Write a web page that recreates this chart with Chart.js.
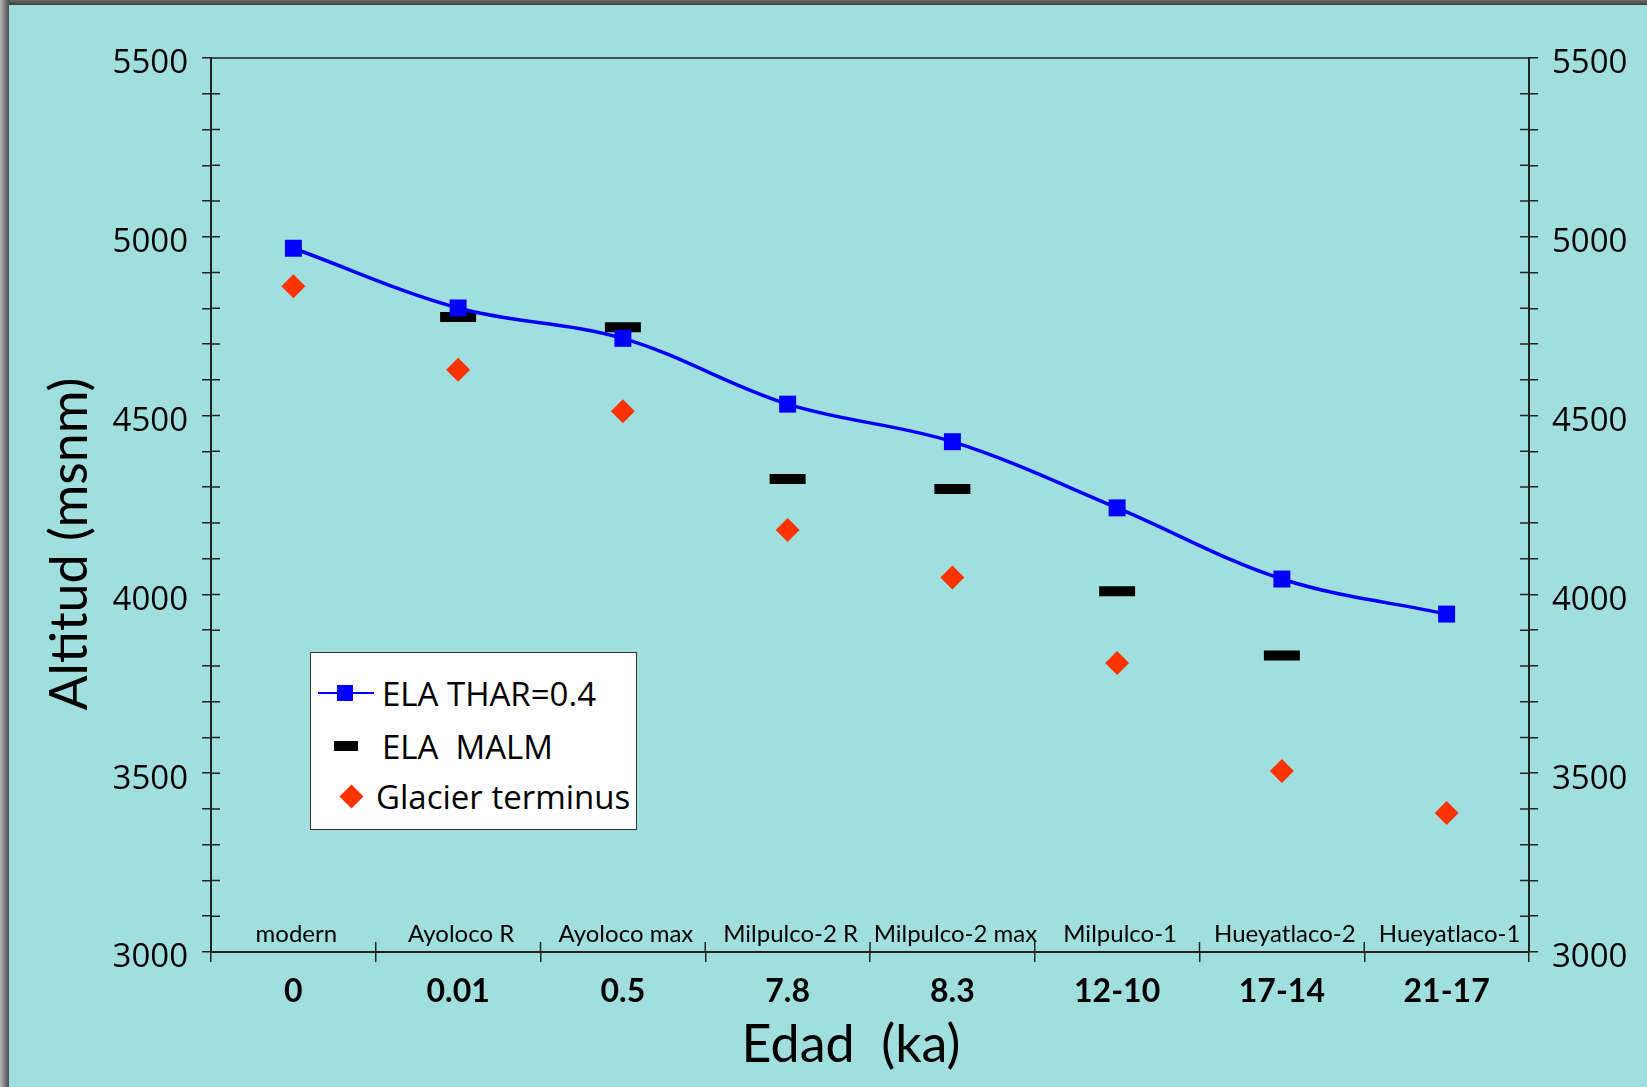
<!DOCTYPE html>
<html>
<head>
<meta charset="utf-8">
<script src="https://cdn.jsdelivr.net/npm/chart.js@4.4.1/dist/chart.umd.min.js"></script>
<style>
  body { margin: 0; background: #a1dfdf; }
  #wrap { position: relative; width: 1647px; height: 1087px; overflow: hidden; }
  #frameTop { position: absolute; left: 0; top: 0; width: 1647px; height: 5px; background: linear-gradient(to bottom, #6a6a6a, #3f3f3f); }
  #frameLeft { position: absolute; left: 0; top: 0; width: 9px; height: 1087px; background: linear-gradient(to right, #b8b8b8, #4a4a4a); }
  #legend { position: absolute; left: 310px; top: 652px; width: 325px; height: 176px; background: #fff; border: 1px solid #333; font-family: "Open Sans", sans-serif; font-size: 33px; color: #000; }
  .row { position: absolute; left: 0; height: 40px; display: flex; align-items: center; white-space: pre; }
  .mk { position: relative; display: inline-block; }
</style>
</head>
<body>
<div id="wrap">
  <canvas id="graph"></canvas>
  <div id="frameTop"></div>
  <div id="frameLeft"></div>
  <div id="legend"></div>
</div>
<script>
/* categories and values */
var sites = ['modern', 'Ayoloco R', 'Ayoloco max', 'Milpulco-2 R', 'Milpulco-2 max', 'Milpulco-1', 'Hueyatlaco-2', 'Hueyatlaco-1'];
var ages = ['0', '0.01', '0.5', '7.8', '8.3', '12-10', '17-14', '21-17'];
var elaThar = [4968, 4801, 4716, 4532, 4427, 4242, 4043, 3945];
var elaMalm = [null, 4776, 4747, 4323, 4295, 4009, 3829, null];
var terminus = [4862, 4628, 4512, 4180, 4047, 3808, 3506, 3389];
var seriesNames = ['ELA THAR=0.4', 'ELA  MALM', 'Glacier terminus'];

var axisColor = '#222';
var bg = '#a1dfdf';

/* ticks crossing into the plot, top border, site names, axis titles */
var decor = {
	id: 'decor',
	beforeDraw: function(chart) {
		var ctx = chart.ctx;
		ctx.save();
		ctx.fillStyle = bg;
		ctx.fillRect(0, 0, chart.width, chart.height);
		ctx.restore();
	},
	afterDraw: function(chart) {
		var ctx = chart.ctx, a = chart.chartArea;
		var y = chart.scales.y, y2 = chart.scales.y2, x = chart.scales.x;
		ctx.save();
		ctx.strokeStyle = axisColor;
		ctx.lineWidth = 1.5;
		ctx.beginPath();
		ctx.moveTo(a.left, a.top);
		ctx.lineTo(a.right, a.top);
		y.ticks.forEach(function(t, i) {
			var p = y.getPixelForTick(i);
			ctx.moveTo(a.left, p);
			ctx.lineTo(a.left + 9, p);
		});
		y2.ticks.forEach(function(t, i) {
			var p = y2.getPixelForTick(i);
			ctx.moveTo(a.right - 9, p);
			ctx.lineTo(a.right, p);
		});
		var half = (x.getPixelForValue(1) - x.getPixelForValue(0)) / 2;
		for (var i = 0; i <= sites.length; i++) {
			var px = x.getPixelForValue(i) - half;
			ctx.moveTo(px, a.bottom);
			ctx.lineTo(px, a.bottom - 10);
		}
		ctx.stroke();

		ctx.fillStyle = '#000';
		ctx.textAlign = 'center';
		ctx.textBaseline = 'alphabetic';
		ctx.font = '24px Lato';
		sites.forEach(function(s, i) {
			ctx.fillText(s, x.getPixelForValue(i) + 3, a.bottom - 10);
		});

		ctx.font = '52px Lato';
		ctx.textBaseline = 'middle';
		ctx.fillText('Edad  (ka)', 851, 1045);
		ctx.translate(70, 544);
		ctx.rotate(-Math.PI / 2);
		ctx.fillText('Altitud (msnm)', 0, 0);
		ctx.restore();
	}
};

function yAxis(pos, width) {
	return {
		position: pos,
		min: 3000,
		max: 5500,
		afterFit: function(s) { s.width = width; },
		ticks: {
			stepSize: 100,
			autoSkip: false,
			padding: 14,
			labelOffset: 6,
			color: '#000',
			font: { family: 'Open Sans', size: 33 },
			callback: function(v) { return v % 500 === 0 ? v : ''; }
		},
		grid: { drawOnChartArea: false, drawTicks: true, tickLength: 9, color: axisColor, lineWidth: 1.5 },
		border: { display: true, color: axisColor, width: 2 }
	};
}

var ctx = document.getElementById('graph');
var myChart = new Chart(ctx, {
	type: 'line',
	data: {
		labels: ages,
		datasets: [{
			label: seriesNames[0],
			data: elaThar,
			borderColor: '#0000ff',
			backgroundColor: '#0000ff',
			borderWidth: 3.5,
			tension: 0.35,
			pointStyle: 'rect',
			pointRadius: 12,
			pointHoverRadius: 12,
			pointBorderWidth: 0
		}, {
			label: seriesNames[1],
			data: elaMalm,
			showLine: false,
			pointStyle: 'line',
			pointRadius: 18,
			pointHoverRadius: 18,
			pointBorderWidth: 10,
			pointBorderColor: '#000',
			borderColor: '#000'
		}, {
			label: seriesNames[2],
			data: terminus,
			showLine: false,
			pointStyle: 'rectRot',
			pointRadius: 12,
			pointHoverRadius: 12,
			pointBorderWidth: 0,
			backgroundColor: '#ff3300',
			borderColor: '#ff3300'
		}]
	},
	options: {
		responsive: true,
		maintainAspectRatio: false,
		animation: false,
		layout: { padding: { top: 58 } },
		plugins: { legend: { display: false }, tooltip: { enabled: false } },
		scales: {
			x: {
				offset: true,
				afterFit: function(s) { s.height = 135; },
				ticks: { autoSkip: false, maxRotation: 0, padding: 10, color: '#000', font: { family: 'Lato', size: 32, weight: 'bold' } },
				grid: { offset: true, drawOnChartArea: false, drawTicks: true, tickLength: 10, color: axisColor, lineWidth: 1.5 },
				border: { display: true, color: axisColor, width: 2 }
			},
			y: yAxis('left', 211),
			y2: yAxis('right', 118)
		}
	},
	plugins: [decor]
});

/* legend box */
var legend = document.getElementById('legend');
var rows = [
	{ top: 20, textLeft: 71, mark: '<span class="mk" style="width:56px;height:16px;margin-left:7px"><span style="position:absolute;left:0;top:7px;width:56px;height:2px;background:#0000ff"></span><span style="position:absolute;left:19px;top:0;width:16px;height:16px;background:#0000ff"></span></span>' },
	{ top: 73, textLeft: 71, mark: '<span class="mk" style="width:24px;height:10px;margin-left:23px;background:#000"></span>' },
	{ top: 123, textLeft: 65, mark: '<span class="mk" style="width:17px;height:17px;margin-left:32px;background:#ff3300;transform:rotate(45deg)"></span>' }
];
rows.forEach(function(r, i) {
	var d = document.createElement('div');
	d.className = 'row';
	d.style.top = r.top + 'px';
	d.innerHTML = r.mark;
	var t = document.createElement('span');
	t.textContent = seriesNames[i];
	t.style.position = 'absolute';
	t.style.left = r.textLeft + 'px';
	d.appendChild(t);
	legend.appendChild(d);
});
</script>
</body>
</html>
